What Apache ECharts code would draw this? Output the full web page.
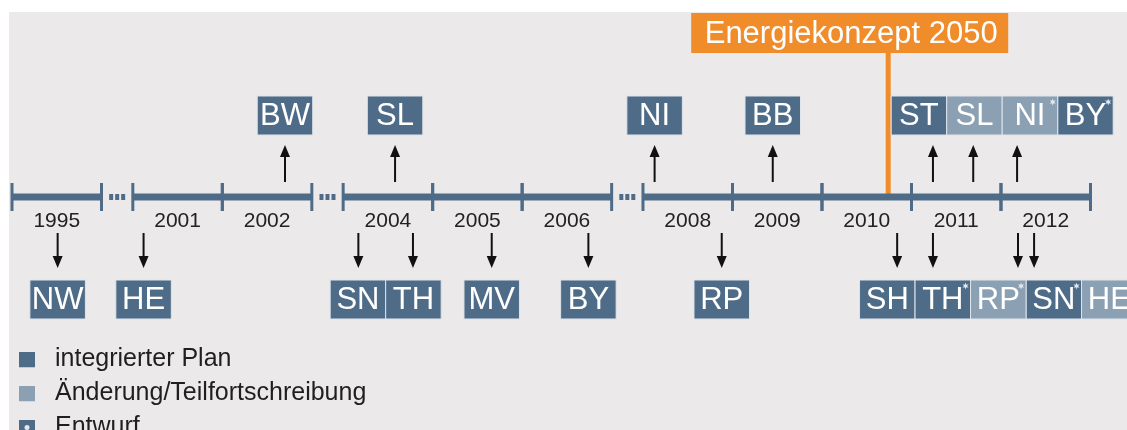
<!DOCTYPE html>
<html>
<head>
<meta charset="utf-8">
<script src="https://cdn.jsdelivr.net/npm/echarts@6/dist/echarts.min.js"></script>
<style>
  html, body { margin: 0; padding: 0; background: #fff; }
  #main { width: 1127px; height: 430px; }
</style>
</head>
<body>
<div id="main"></div>
<script>
// timeline years, with a break drawn after some of them
var years = ['1995', '2001', '2002', '2004', '2005', '2006', '2008', '2009', '2010', '2011', '2012'];
var breaksAfter = ['1995', '2002', '2006'];

// plans shown above the line (state, date as decimal year, kind, draft?)
var topStates = ['BW', 'SL', 'NI', 'BB', 'ST', 'SL', 'NI', 'BY'];
var topDates  = [2002.70, 2004.58, 2008.13, 2009.45, 2011.24, 2011.69, 2012.18, null];
var topKinds  = ['plan', 'plan', 'plan', 'plan', 'plan', 'change', 'change', 'plan'];
var topDraft  = [false, false, false, false, false, false, true, true];

// plans shown below the line
var bottomStates = ['NW', 'HE', 'SN', 'TH', 'MV', 'BY', 'RP', 'SH', 'TH', 'RP', 'SN', 'HE'];
var bottomDates  = [1995.51, 2001.12, 2004.17, 2004.78, 2005.66, 2006.74, 2008.88, 2010.84, 2011.24, 2012.19, 2012.37, null];
var bottomKinds  = ['plan', 'plan', 'plan', 'plan', 'plan', 'plan', 'plan', 'plan', 'plan', 'change', 'plan', 'change'];
var bottomDraft  = [false, false, false, false, false, false, false, false, true, true, true, false];

var conceptLabel = 'Energiekonzept 2050';
var conceptDate = 2010.74;

var legendNames = ['integrierter Plan', 'Änderung/Teilfortschreibung', 'Entwurf'];

// layout
var UNIT_PX = 89.5, GAP = 0.35;
var BOX_W = 55.5 / UNIT_PX, BOX_H = 39;
var LINE_Y = 197, TOP_BOX_Y = 96, BOTTOM_BOX_Y = 280;
var DARK = '#4e6c88', LIGHT = '#8ca0b4', ORANGE = '#f18c2a';
var FONT = '"Liberation Sans", Arial, sans-serif';

var slotStart = {}, u = 0, timelineData = [], breakData = [];
years.forEach(function (y) {
    slotStart[y] = u;
    timelineData.push([u, u + 1, y]);
    u += 1;
    if (breaksAfter.indexOf(y) >= 0) {
        breakData.push([u + GAP / 2]);
        u += GAP;
    }
});

function toUnit(d) {
    var y = Math.floor(d);
    return slotStart[String(y)] + (d - y);
}

// boxes that would overlap are packed side by side, centred over their arrows
function layoutRow(dates) {
    var groups = [];
    dates.forEach(function (d, i) {
        var c = d == null ? null : toUnit(d);
        var g = groups[groups.length - 1];
        if (g && (c == null || c - g.last < BOX_W * 1.05)) g.items.push({ i: i, c: c });
        else groups.push(g = { items: [{ i: i, c: c }] });
        if (c != null) g.last = c;
    });
    function place(g) {
        var off = 0, sum = 0, n = 0;
        g.items.forEach(function (it, k) {
            if (it.c != null) { off += (k + 0.5) * BOX_W; sum += it.c; n++; }
        });
        g.start = (sum - off) / n;
        g.end = g.start + g.items.length * BOX_W;
    }
    groups.forEach(place);
    for (var k = 1; k < groups.length; k++) {
        if (groups[k].start < groups[k - 1].end - 1e-6) {
            groups[k - 1].items = groups[k - 1].items.concat(groups[k].items);
            groups.splice(k, 1);
            place(groups[k - 1]);
            k = Math.max(0, k - 2);
        }
    }
    var centers = [];
    groups.forEach(function (g) {
        g.items.forEach(function (it, k) { centers[it.i] = g.start + (k + 0.5) * BOX_W; });
    });
    return centers;
}

var planBoxes = [], changeBoxes = [], draftStars = [], arrowData = [];
function addRow(states, dates, kinds, drafts, boxY, up) {
    var centers = layoutRow(dates);
    states.forEach(function (s, i) {
        var item = [centers[i], boxY, s];
        (kinds[i] === 'plan' ? planBoxes : changeBoxes).push(item);
        if (drafts[i]) draftStars.push([centers[i], boxY]);
        if (dates[i] != null) arrowData.push([toUnit(dates[i]), up ? 1 : 0]);
    });
}
addRow(topStates, topDates, topKinds, topDraft, TOP_BOX_Y, true);
addRow(bottomStates, bottomDates, bottomKinds, bottomDraft, BOTTOM_BOX_Y, false);

function renderTimeline(params, api) {
    var p0 = api.coord([api.value(0), LINE_Y]);
    var p1 = api.coord([api.value(1), LINE_Y]);
    var tick = { stroke: DARK, lineWidth: 3 };
    return {
        type: 'group',
        children: [
            { type: 'rect', shape: { x: p0[0], y: p0[1] - 3.5, width: p1[0] - p0[0], height: 7 }, style: { fill: DARK } },
            { type: 'line', shape: { x1: p0[0], y1: p0[1] - 14, x2: p0[0], y2: p0[1] + 14 }, style: tick },
            { type: 'line', shape: { x1: p1[0], y1: p1[1] - 14, x2: p1[0], y2: p1[1] + 14 }, style: tick },
            { type: 'text', style: { text: api.value(2), x: (p0[0] + p1[0]) / 2, y: p0[1] + 24, align: 'center', verticalAlign: 'middle', fill: '#222', fontSize: 21, fontFamily: FONT } }
        ]
    };
}

function renderBreak(params, api) {
    var c = api.coord([api.value(0), LINE_Y]);
    var kids = [];
    for (var k = -1; k <= 1; k++) {
        kids.push({ type: 'rect', shape: { x: c[0] + k * 6 - 2, y: c[1] - 3, width: 4, height: 6 }, style: { fill: DARK } });
    }
    return { type: 'group', children: kids };
}

function renderArrow(params, api) {
    var up = api.value(1) === 1;
    var a = api.coord([api.value(0), up ? 182 : 233]);
    var b = api.coord([api.value(0), up ? 145 : 268]);
    var dir = up ? 1 : -1;
    return {
        type: 'group',
        children: [
            { type: 'line', shape: { x1: a[0], y1: a[1], x2: b[0], y2: b[1] + dir * 8 }, style: { stroke: '#111', lineWidth: 2 } },
            { type: 'polygon', shape: { points: [[b[0], b[1]], [b[0] - 5, b[1] + dir * 12], [b[0] + 5, b[1] + dir * 12]] }, style: { fill: '#111' } }
        ]
    };
}

function boxRenderer(fill) {
    return function (params, api) {
        var c = api.coord([api.value(0), api.value(1)]);
        var w = api.size([BOX_W, 0])[0];
        return {
            type: 'group',
            children: [
                { type: 'rect', shape: { x: c[0] - w / 2, y: c[1], width: w, height: BOX_H }, style: { fill: fill, stroke: '#dfe4ea', lineWidth: 1 } },
                { type: 'text', style: { text: api.value(2), x: c[0], y: c[1] + BOX_H / 2 + 1, align: 'center', verticalAlign: 'middle', fill: '#fff', fontSize: 31, fontFamily: FONT } }
            ]
        };
    };
}

function starPoints(cx, cy, r) {
    var pts = [];
    for (var k = 0; k < 12; k++) {
        var ang = Math.PI * k / 6 - Math.PI / 2;
        var rr = k % 2 ? r * 0.45 : r;
        pts.push([cx + rr * Math.cos(ang), cy + rr * Math.sin(ang)]);
    }
    return pts;
}

function renderStar(params, api) {
    var c = api.coord([api.value(0), api.value(1)]);
    var w = api.size([BOX_W, 0])[0];
    return { type: 'polygon', shape: { points: starPoints(c[0] + w / 2 - 5, c[1] + 6, 3.5) }, style: { fill: '#e4e9ef' } };
}

function renderConcept(params, api) {
    var top = api.coord([api.value(0), 53]);
    var bot = api.coord([api.value(0), LINE_Y]);
    var x = top[0];
    return {
        type: 'group',
        children: [
            { type: 'rect', shape: { x: x - 2.5, y: top[1], width: 5, height: bot[1] - top[1] }, style: { fill: ORANGE } },
            { type: 'rect', shape: { x: x - 197, y: top[1] - 40, width: 317, height: 40 }, style: { fill: ORANGE } },
            { type: 'text', style: { text: conceptLabel, x: x - 37, y: top[1] - 19, align: 'center', verticalAlign: 'middle', fill: '#fff', fontSize: 31, fontFamily: FONT } }
        ]
    };
}

function legendIcon(fill, star) {
    var svg = '<svg xmlns="http://www.w3.org/2000/svg" width="31" height="16" viewBox="0 0 31 16">' +
        '<rect x="0" y="0" width="16" height="16" fill="' + fill + '"/>' +
        (star ? '<circle cx="8" cy="8" r="2.5" fill="#e4e9ef"/>' : '') + '</svg>';
    return 'image://data:image/svg+xml;charset=utf-8,' + encodeURIComponent(svg);
}

var chart = echarts.init(document.getElementById('main'));
chart.setOption({
    animation: false,
    backgroundColor: '#fff',
    grid: { left: 9, right: 0, top: 12, bottom: 0, show: true, backgroundColor: '#ebe9ea', borderWidth: 0 },
    xAxis: { type: 'value', min: -3 / UNIT_PX, max: 1115 / UNIT_PX, show: false },
    yAxis: { type: 'value', min: 12, max: 430, inverse: true, show: false },
    legend: {
        orient: 'vertical', left: 19, top: 347, height: 200, padding: 0, itemGap: 9,
        itemWidth: 31, itemHeight: 16, selectedMode: false,
        textStyle: { fontSize: 25, color: '#1f1f1f', fontFamily: FONT },
        data: [
            { name: legendNames[0], icon: legendIcon(DARK, false) },
            { name: legendNames[1], icon: legendIcon(LIGHT, false) },
            { name: legendNames[2], icon: legendIcon(DARK, true) }
        ]
    },
    series: [
        { type: 'custom', z: 1, renderItem: renderConcept, data: [[toUnit(conceptDate)]], encode: { x: 0 } },
        { type: 'custom', z: 3, renderItem: renderTimeline, data: timelineData, encode: { x: [0, 1] } },
        { type: 'custom', z: 3, renderItem: renderBreak, data: breakData, encode: { x: 0 } },
        { type: 'custom', z: 3, renderItem: renderArrow, data: arrowData, encode: { x: 0 } },
        { name: legendNames[0], type: 'custom', z: 4, renderItem: boxRenderer(DARK), data: planBoxes, encode: { x: 0, y: 1 }, itemStyle: { color: DARK } },
        { name: legendNames[1], type: 'custom', z: 4, renderItem: boxRenderer(LIGHT), data: changeBoxes, encode: { x: 0, y: 1 }, itemStyle: { color: LIGHT } },
        { name: legendNames[2], type: 'custom', z: 5, renderItem: renderStar, data: draftStars, encode: { x: 0, y: 1 }, itemStyle: { color: DARK } }
    ]
});
</script>
</body>
</html>
